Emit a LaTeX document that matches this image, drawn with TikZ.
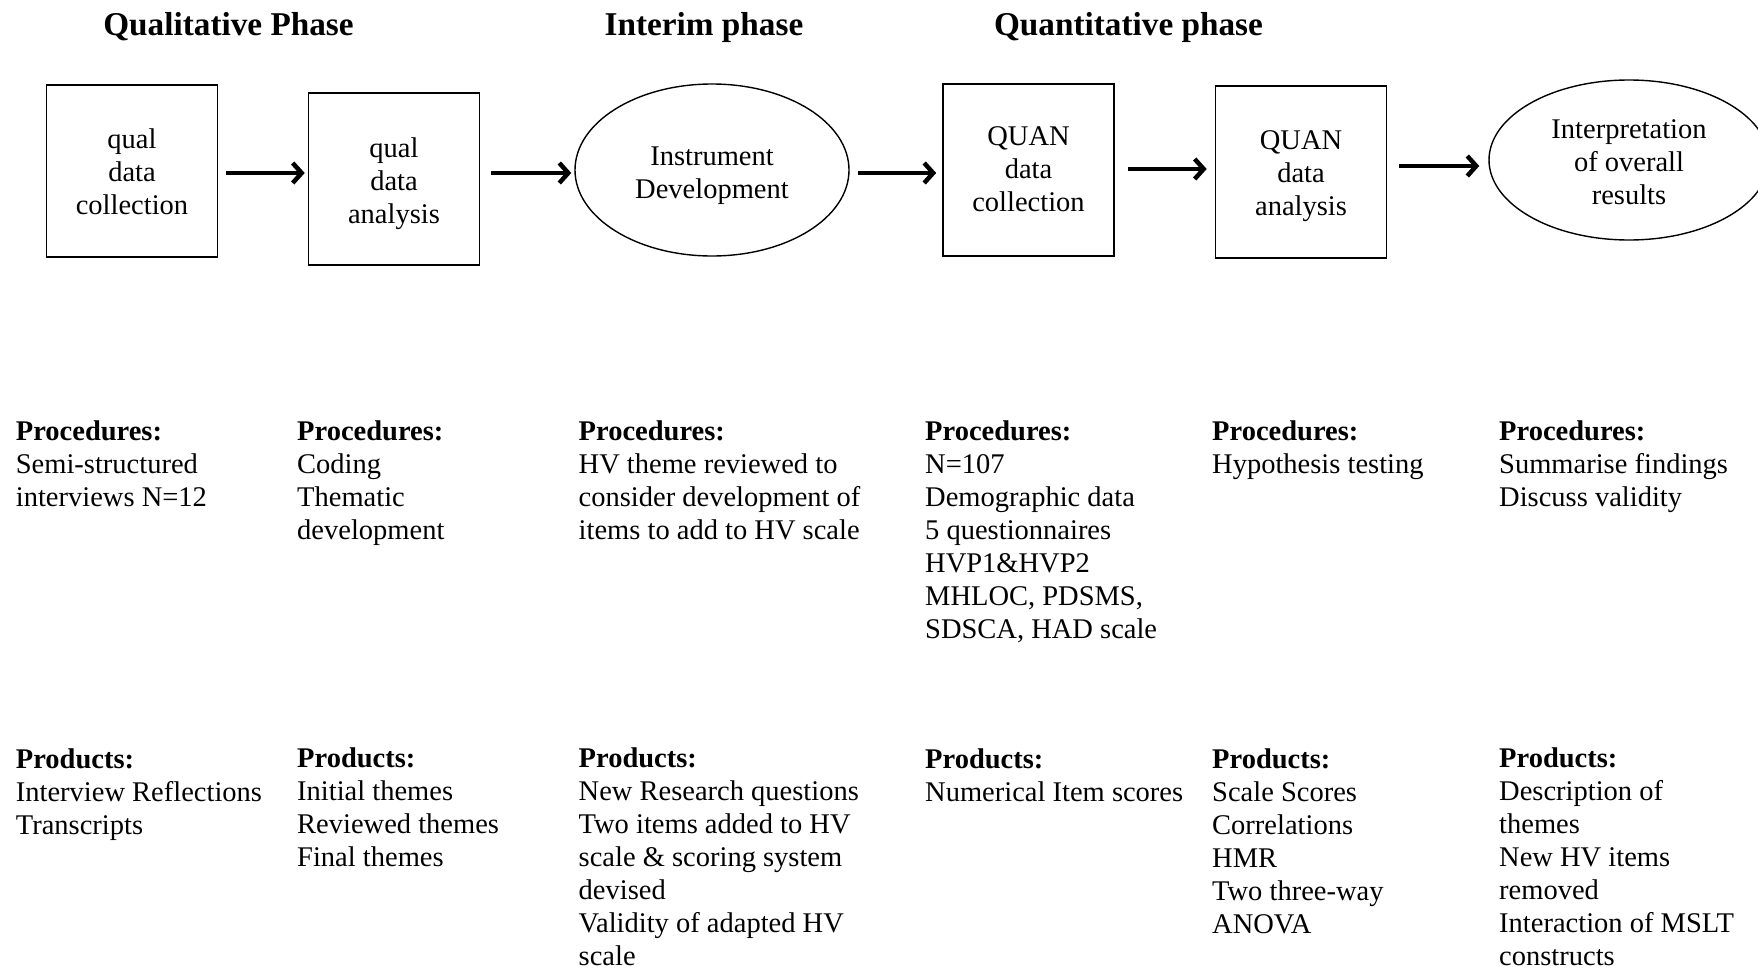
\documentclass[tikz,border=0pt]{standalone}
\usepackage{fontspec}
\setmainfont{Liberation Serif}
\usetikzlibrary{arrows.meta,shapes.geometric}
% a bold heading followed by plain lines; the block's baseline is its first line
\newcommand{\infoblock}[2]{\begin{tabular}[t]{@{}l@{}}\textbf{#1}\\#2\end{tabular}}
% centred lines inside a stage, set a little low without changing the box size
\newcommand{\stagetext}[2][4pt]{\raisebox{-#1}[\height][\depth]{\begin{tabular}{@{}c@{}}#2\end{tabular}}}
\begin{document}
\begin{tikzpicture}[x=1pt,y=-1pt,
  every node/.style={font=\fontsize{28.5}{33}\selectfont},
  stage/.style={draw,line width=1.6pt,minimum width=171pt,minimum height=172pt,inner sep=0pt},
  oval/.style={ellipse,draw,line width=1.4pt,inner sep=0pt},
  flow/.style={line width=4.5pt,-{Straight Barb[length=9pt,width=20pt]}},
  phase/.style={font=\fontsize{33.25}{38}\selectfont\bfseries,anchor=base},
  info/.style={anchor=base west,inner sep=0pt}
]
\useasboundingbox (0,0) rectangle (1758,969);
\clip (0,0) rectangle (1758,969);

% phase headings
\node[phase] (h1) at (228.5,35) {Qualitative Phase};
\node[phase] (h2) at (704,35) {Interim phase};
\node[phase] (h3) at (1128.5,35) {Quantitative phase};

% stages of the design
\node[stage] (b1) at (132,171) {\stagetext{qual\\data\\collection}};
\node[stage] (b2) at (394,179) {\stagetext[5pt]{qual\\data\\analysis}};
\node[oval,minimum width=274pt,minimum height=172pt] (e1) at (712,170) {\stagetext[5pt]{Instrument\\Development}};
\node[stage] (b3) at (1028.5,170) {\stagetext[1.5pt]{QUAN\\data\\collection}};
\node[stage] (b4) at (1301,172) {\stagetext{QUAN\\data\\analysis}};
\node[oval,minimum width=280pt,minimum height=160pt] (e2) at (1629,160) {\stagetext[4.5pt]{Interpretation\\of overall\\results}};

% flow between stages
\draw[flow] ([xshift=7.5pt,yshift=-2pt]b1.east) -- ([xshift=-3pt,yshift=6pt]b2.west);
\draw[flow] ([xshift=11pt,yshift=6pt]b2.east) -- ([xshift=-3pt,yshift=-3pt]e1.west);
\draw[flow] ([xshift=8pt,yshift=-3pt]e1.east) -- ([xshift=-6pt,yshift=-3pt]b3.west);
\draw[flow] ([xshift=13pt,yshift=1pt]b3.east) -- ([xshift=-8pt,yshift=3pt]b4.west);
\draw[flow] ([xshift=12pt,yshift=6pt]b4.east) -- ([xshift=-9pt,yshift=-6pt]e2.west);

% procedures
\node[info] (p1) at (15.7,440) {\infoblock{Procedures:}{Semi-structured\\interviews N=12}};
\node[info] (p2) at (297,440) {\infoblock{Procedures:}{Coding\\Thematic\\development}};
\node[info] (p3) at (578.5,440) {\infoblock{Procedures:}{HV theme reviewed to\\consider development of\\items to add to HV scale}};
\node[info] (p4) at (925,440) {\infoblock{Procedures:}{N=107\\Demographic data\\5 questionnaires\\HVP1\&HVP2\\MHLOC, PDSMS,\\SDSCA, HAD scale}};
\node[info] (p5) at (1212,440) {\infoblock{Procedures:}{Hypothesis testing}};
\node[info] (p6) at (1499,440) {\infoblock{Procedures:}{Summarise findings\\Discuss validity}};

% products
\node[info] (r1) at (15.7,768) {\infoblock{Products:}{Interview Reflections\\Transcripts}};
\node[info] (r2) at (297,767) {\infoblock{Products:}{Initial themes\\Reviewed themes\\Final themes}};
\node[info] (r3) at (578.5,767) {\infoblock{Products:}{New Research questions\\Two items added to HV\\scale \& scoring system\\devised\\Validity of adapted HV\\scale}};
\node[info] (r4) at (925,768) {\infoblock{Products:}{Numerical Item scores}};
\node[info] (r5) at (1212,768) {\infoblock{Products:}{Scale Scores\\Correlations\\HMR\\Two three-way\\ANOVA}};
\node[info] (r6) at (1499,767) {\infoblock{Products:}{Description of\\themes\\New HV items\\removed\\Interaction of MSLT\\constructs}};
\end{tikzpicture}
\end{document}
